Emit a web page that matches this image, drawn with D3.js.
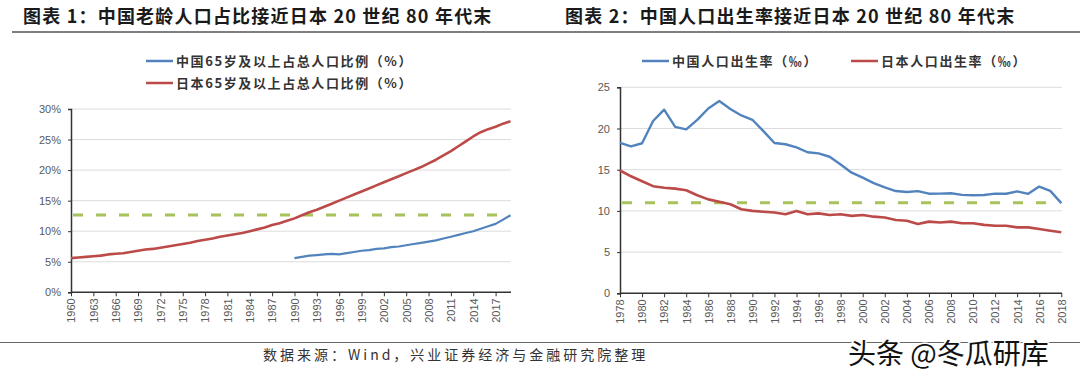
<!DOCTYPE html>
<html>
<head>
<meta charset="utf-8">
<script src="https://cdn.jsdelivr.net/npm/d3@7"></script>
<style>
  body { margin: 0; background: #fff; }
  svg { display: block; }
  .tick text { fill: #595959; font-family: "Liberation Sans", Arial, sans-serif; font-size: 11px; }
  .cjk { font-family: "Noto Sans CJK SC", sans-serif; fill: #1a1a1a; }
</style>
</head>
<body>
<div id="d3-container"></div>
<script>
/**
 * DATA
 * */
// chart 1: share of population aged 65+ (%)
const agedYears = d3.range(1960, 2020);
const japanAged = [5.6, 5.7, 5.8, 5.9, 6.0, 6.2, 6.3, 6.4, 6.6, 6.8,
  7.0, 7.1, 7.3, 7.5, 7.7, 7.9, 8.1, 8.4, 8.6, 8.8,
  9.1, 9.3, 9.5, 9.7, 10.0, 10.3, 10.6, 11.0, 11.3, 11.7,
  12.1, 12.6, 13.1, 13.5, 14.0, 14.5, 15.0, 15.5, 16.0, 16.5,
  17.0, 17.5, 18.0, 18.5, 19.0, 19.5, 20.0, 20.5, 21.1, 21.7,
  22.4, 23.1, 23.9, 24.7, 25.5, 26.2, 26.7, 27.1, 27.6, 28.0];
const chinaAgedYears = d3.range(1990, 2020);
const chinaAged = [5.6, 5.8, 6.0, 6.1, 6.2, 6.3, 6.2, 6.4, 6.6, 6.8,
  6.9, 7.1, 7.2, 7.4, 7.5, 7.7, 7.9, 8.1, 8.3, 8.5,
  8.8, 9.1, 9.4, 9.7, 10.0, 10.4, 10.8, 11.2, 11.9, 12.6];
const agedRef = 12.65;
const agedTicks = [0, 5, 10, 15, 20, 25, 30];
const agedYearTicks = d3.range(1960, 2018, 3);

// chart 2: birth rate (per mille)
const birthYears = d3.range(1978, 2019);
const chinaBirth = [18.25, 17.82, 18.21, 20.91, 22.28, 20.19, 19.90, 21.04, 22.43, 23.33,
  22.37, 21.58, 21.06, 19.68, 18.24, 18.09, 17.70, 17.12, 16.98, 16.57,
  15.64, 14.64, 14.03, 13.38, 12.86, 12.41, 12.29, 12.40, 12.09, 12.10,
  12.14, 11.95, 11.90, 11.93, 12.10, 12.08, 12.37, 12.07, 12.95, 12.43, 10.94];
const japanBirth = [14.9, 14.2, 13.6, 13.0, 12.8, 12.7, 12.5, 11.9, 11.4, 11.1,
  10.8, 10.2, 10.0, 9.9, 9.8, 9.6, 10.0, 9.6, 9.7, 9.5,
  9.6, 9.4, 9.5, 9.3, 9.2, 8.9, 8.8, 8.4, 8.7, 8.6,
  8.7, 8.5, 8.5, 8.3, 8.2, 8.2, 8.0, 8.0, 7.8, 7.6, 7.4];
const birthRef = 11.0;
const birthTicks = [0, 5, 10, 15, 20, 25];
const birthYearTicks = d3.range(1978, 2019, 2);

const blue = "#5283bd", red = "#bb4a48", green = "#a8c25c";

/**
 * SVG
 * */
const svg = d3.select("#d3-container")
  .append("svg")
  .attr("width", 1080)
  .attr("height", 374);

// titles and the rule under them
svg.append("text").attr("class", "cjk")
  .attr("x", 23).attr("y", 23)
  .attr("font-size", 18).attr("font-weight", 700).attr("letter-spacing", 1.2)
  .text("图表 1：中国老龄人口占比接近日本 20 世纪 80 年代末");
svg.append("text").attr("class", "cjk")
  .attr("x", 565).attr("y", 23)
  .attr("font-size", 18).attr("font-weight", 700).attr("letter-spacing", 1.2)
  .text("图表 2：中国人口出生率接近日本 20 世纪 80 年代末");
svg.append("line")
  .attr("x1", 12).attr("x2", 1080).attr("y1", 32).attr("y2", 32)
  .attr("stroke", "#555").attr("stroke-width", 1.5);

// source line at the bottom
svg.append("line")
  .attr("x1", 0).attr("x2", 1080).attr("y1", 342.5).attr("y2", 342.5)
  .attr("stroke", "#666").attr("stroke-width", 1.2);
svg.append("text").attr("class", "cjk")
  .attr("x", 263).attr("y", 360)
  .attr("font-size", 14).attr("letter-spacing", 3).style("fill", "#333")
  .text("数据来源：Wind，兴业证券经济与金融研究院整理");

function drawChart(cfg) {
  const x = d3.scaleLinear().domain(cfg.xDomain).range([cfg.left, cfg.right]);
  const y = d3.scaleLinear().domain(cfg.yDomain).range([cfg.bottom, cfg.top]);
  const g = svg.append("g");

  // gridlines
  g.selectAll("line.grid")
    .data(cfg.yTicks.filter(d => d > 0))
    .join("line")
    .attr("class", "grid")
    .attr("x1", cfg.left).attr("x2", cfg.gridEnd)
    .attr("y1", d => y(d)).attr("y2", d => y(d))
    .attr("stroke", "#dcdcdc").attr("stroke-width", 1);

  // reference dashed line
  g.append("line")
    .attr("x1", cfg.left + 2).attr("x2", cfg.gridEnd - 8)
    .attr("y1", y(cfg.ref)).attr("y2", y(cfg.ref))
    .attr("stroke", green).attr("stroke-width", 3)
    .attr("stroke-dasharray", "10 13");

  // y axis
  const yAxis = g.append("g")
    .attr("transform", `translate(${cfg.left},0)`)
    .call(d3.axisLeft(y).tickValues(cfg.yTicks).tickSize(3).tickPadding(7).tickFormat(cfg.yFormat));
  yAxis.select(".domain").attr("stroke", "#333").attr("stroke-width", 1.5);
  yAxis.selectAll(".tick line").attr("stroke", "#333");

  // x axis
  const xAxis = g.append("g")
    .attr("transform", `translate(0,${cfg.bottom})`)
    .call(d3.axisBottom(x).tickValues(cfg.xTicks).tickSize(4).tickFormat(d3.format("d")).tickSizeOuter(0));
  xAxis.select(".domain")
    .attr("d", `M${cfg.left},0H${cfg.gridEnd}`)
    .attr("stroke", "#333").attr("stroke-width", 1.5);
  xAxis.selectAll(".tick line").attr("stroke", "#333");
  xAxis.selectAll(".tick text")
    .attr("transform", "rotate(-90)")
    .attr("text-anchor", "end")
    .attr("x", -6).attr("y", 0).attr("dy", "0.35em");

  const line = d3.line().x(d => x(d[0])).y(d => y(d[1]));
  cfg.series.forEach(s => {
    g.append("path")
      .datum(d3.zip(s.years, s.values))
      .attr("fill", "none")
      .attr("stroke", s.color)
      .attr("stroke-width", s.width)
      .attr("stroke-linejoin", "round")
      .attr("d", line);
  });

  // legend
  cfg.legend.forEach(l => {
    g.append("line")
      .attr("x1", l.x).attr("x2", l.x + 27).attr("y1", l.y).attr("y2", l.y)
      .attr("stroke", l.color).attr("stroke-width", 2.5);
    g.append("text").attr("class", "cjk")
      .attr("x", l.x + 30).attr("y", l.y).attr("dy", "0.36em")
      .attr("font-size", 13).attr("font-weight", 700).attr("letter-spacing", 1.6)
      .style("fill", "#333")
      .text(l.label);
  });
}

drawChart({
  xDomain: [1960, 2019], yDomain: [0, 30],
  left: 71, right: 510.5, top: 109, bottom: 292.3, gridEnd: 511,
  yTicks: agedTicks, xTicks: agedYearTicks, yFormat: d => d + "%",
  ref: agedRef,
  series: [
    { years: agedYears, values: japanAged, color: red, width: 2.6 },
    { years: chinaAgedYears, values: chinaAged, color: blue, width: 2.2 }
  ],
  legend: [
    { x: 146, y: 61, color: blue, label: "中国65岁及以上占总人口比例（%）" },
    { x: 146, y: 83, color: red, label: "日本65岁及以上占总人口比例（%）" }
  ]
});

drawChart({
  xDomain: [1978, 2018], yDomain: [0, 25],
  left: 620, right: 1061.3, top: 87.3, bottom: 293.3, gridEnd: 1062,
  yTicks: birthTicks, xTicks: birthYearTicks, yFormat: d3.format("d"),
  ref: birthRef,
  series: [
    { years: birthYears, values: chinaBirth, color: blue, width: 2.4 },
    { years: birthYears, values: japanBirth, color: red, width: 2.6 }
  ],
  legend: [
    { x: 642, y: 61, color: blue, label: "中国人口出生率（‰）" },
    { x: 851, y: 61, color: red, label: "日本人口出生率（‰）" }
  ]
});

// watermark
svg.append("text").attr("class", "cjk")
  .attr("x", 848).attr("y", 364)
  .attr("font-size", 28)
  .style("fill", "#111").style("stroke", "#fff").style("stroke-width", 3)
  .style("paint-order", "stroke")
  .text("头条 @冬瓜研库");
</script>
</body>
</html>
